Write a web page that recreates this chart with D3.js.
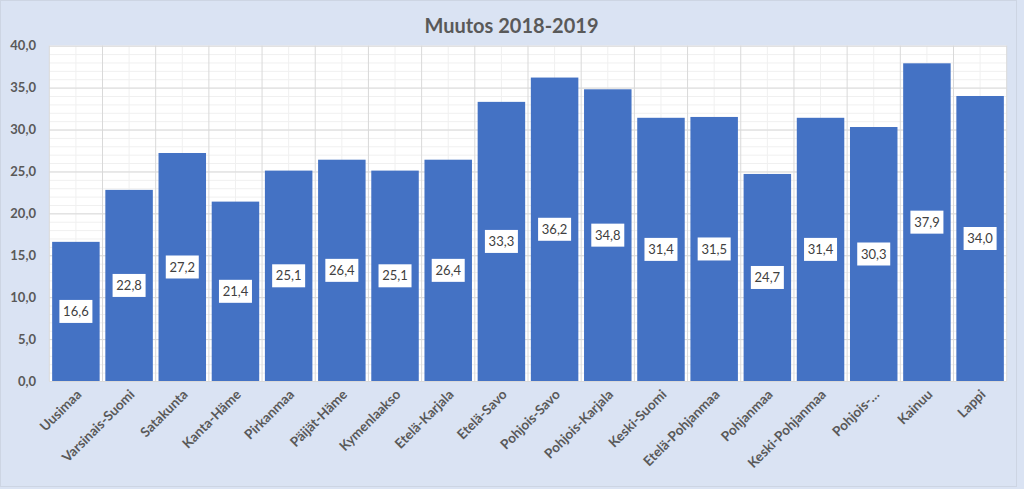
<!DOCTYPE html>
<html><head><meta charset="utf-8">
<script src="https://cdn.jsdelivr.net/npm/d3@7"></script>
<style>body{margin:0;background:#dae3f3;}svg{display:block;}</style>
</head><body>
<script>
const categories = ["Uusimaa","Varsinais-Suomi","Satakunta","Kanta-Häme","Pirkanmaa","Päijät-Häme","Kymenlaakso","Etelä-Karjala","Etelä-Savo","Pohjois-Savo","Pohjois-Karjala","Keski-Suomi","Etelä-Pohjanmaa","Pohjanmaa","Keski-Pohjanmaa","Pohjois-…","Kainuu","Lappi"];
const values = [16.6,22.8,27.2,21.4,25.1,26.4,25.1,26.4,33.3,36.2,34.8,31.4,31.5,24.7,31.4,30.3,37.9,34.0];
const yTicks = [0,5,10,15,20,25,30,35,40];
const title = "Muutos 2018-2019";

const W = 1024, H = 489;
const L = 49.3, R = 1006.7, T = 45.7, B = 381;
const fmt = v => v.toFixed(1).replace(".", ",");
const font = "Lato, 'Open Sans', sans-serif";

const svg = d3.select("body").append("svg").attr("width", W).attr("height", H);
svg.append("rect").attr("x",0).attr("y",0).attr("width",W).attr("height",H).attr("fill","#dae3f3");
svg.append("rect").attr("x",0.5).attr("y",0.5).attr("width",1016).attr("height",486).attr("fill","none").attr("stroke","#cdd5e3");

const x = d3.scaleBand().domain(categories).range([L, R]).paddingInner(0.107).paddingOuter(0.0535);
const step = (R - L) / categories.length;
const y = d3.scaleLinear().domain([0, 40]).range([B, T]);

svg.append("rect").attr("x",L).attr("y",T).attr("width",R-L).attr("height",B-T).attr("fill","#ffffff");

const g = svg.append("g");
g.selectAll(".hmin").data(d3.range(0, 41, 1)).join("line")
  .attr("x1",L).attr("x2",R).attr("y1",d=>y(d)+0.5).attr("y2",d=>y(d)+0.5)
  .attr("stroke","#f0f0f0").attr("stroke-width",1);
g.selectAll(".vmin").data(categories).join("line")
  .attr("x1",d=>x(d)+x.bandwidth()/2).attr("x2",d=>x(d)+x.bandwidth()/2).attr("y1",T).attr("y2",B)
  .attr("stroke","#f0f0f0").attr("stroke-width",1);
g.selectAll(".hmaj").data(yTicks).join("line")
  .attr("x1",L).attr("x2",R).attr("y1",d=>y(d)+0.5).attr("y2",d=>y(d)+0.5)
  .attr("stroke","#d9d9d9").attr("stroke-width",1);
g.selectAll(".vmaj").data(d3.range(0, categories.length + 1)).join("line")
  .attr("x1",i=>L+i*step).attr("x2",i=>L+i*step).attr("y1",T).attr("y2",B)
  .attr("stroke","#d9d9d9").attr("stroke-width",1);

svg.append("g").selectAll("rect").data(values).join("rect")
  .attr("x",(d,i)=>x(categories[i])).attr("width",x.bandwidth())
  .attr("y",d=>y(d)).attr("height",d=>y(0)-y(d))
  .attr("fill","#4472c4");

const lab = svg.append("g").selectAll("g").data(values).join("g")
  .attr("transform",(d,i)=>`translate(${x(categories[i])+x.bandwidth()/2},${y(d/2)})`);
lab.append("rect").attr("x",-16.5).attr("y",-11.5).attr("width",33).attr("height",23).attr("fill","#ffffff");
lab.append("text").attr("text-anchor","middle").attr("dy","0.36em")
  .attr("font-family",font).attr("font-size",13).attr("fill","#404040").text(d=>fmt(d));

svg.append("g").selectAll("text").data(yTicks).join("text")
  .attr("x",36).attr("y",d=>y(d)).attr("dy","0.35em").attr("text-anchor","end")
  .attr("font-family",font).attr("font-weight","bold").attr("font-size",13).attr("fill","#595959")
  .text(d=>fmt(d));

svg.append("g").selectAll("text").data(categories).join("text")
  .attr("transform",d=>`translate(${x(d)+x.bandwidth()/2+3},${B+11}) rotate(-45)`)
  .attr("text-anchor","end").attr("dy","0.35em")
  .attr("font-family",font).attr("font-weight","bold").attr("font-size",13.5).attr("fill","#595959")
  .text(d=>d);

svg.append("text").attr("x",511.5).attr("y",33).attr("text-anchor","middle")
  .attr("font-family",font).attr("font-weight","bold").attr("font-size",20).attr("fill","#595959")
  .text(title);
</script>
</body></html>
